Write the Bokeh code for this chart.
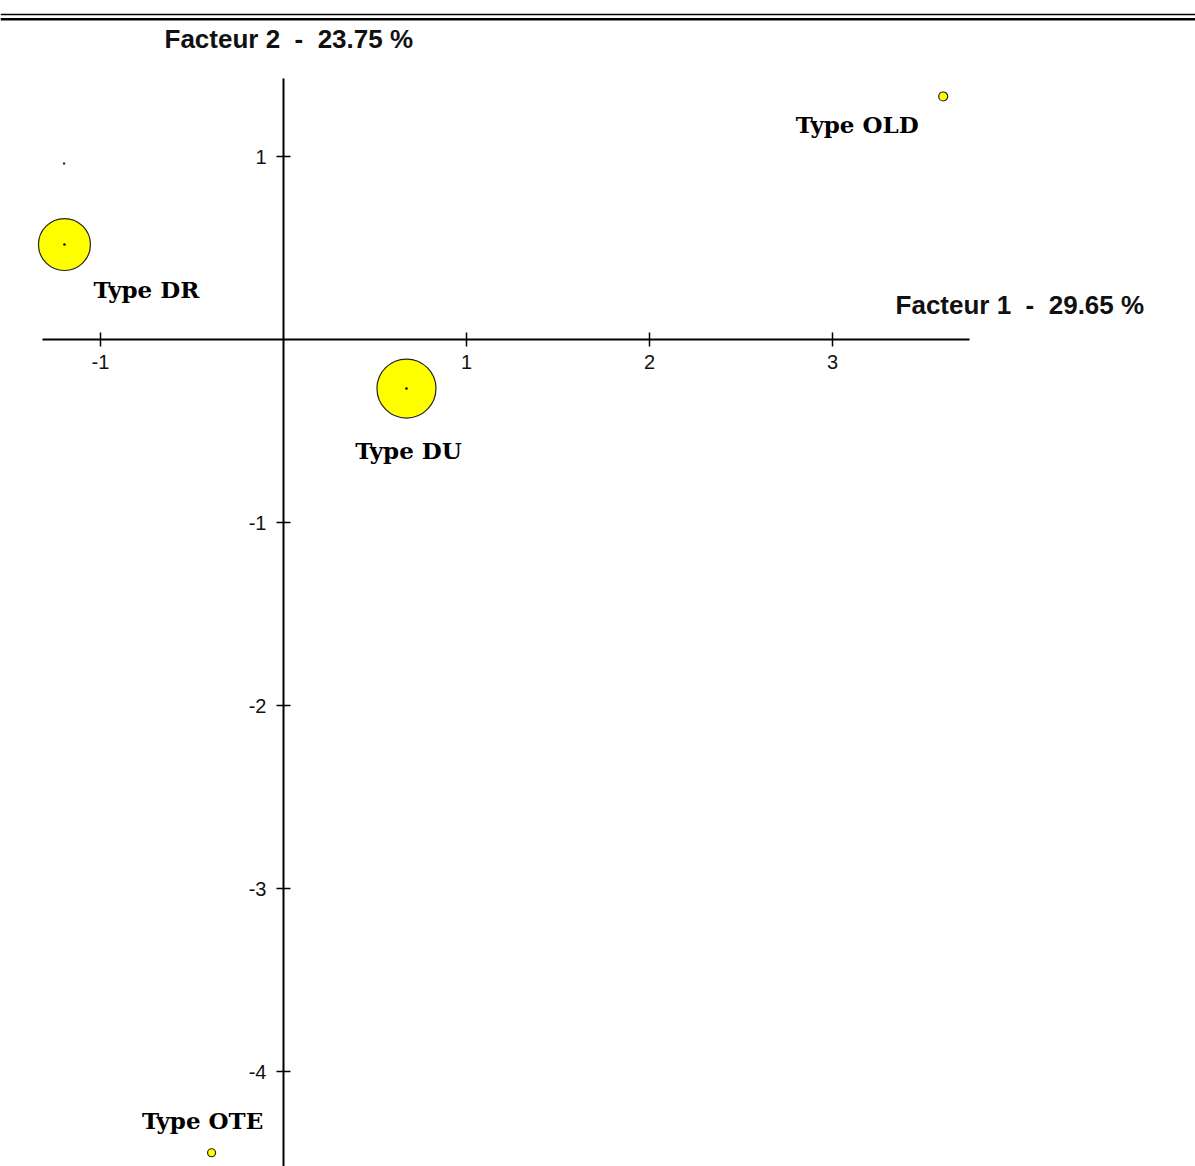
from bokeh.plotting import figure
from bokeh.models import (Range1d, FixedTicker, Label, LabelSet, Span,
                          ColumnDataSource, LinearAxis, CDSView, BooleanFilter)
from bokeh.embed import file_html
from bokeh.resources import INLINE
from bokeh.core.properties import value

# ---- data ----
types = ["Type DR", "Type DU", "Type OLD", "Type OTE"]
facteur1 = [-1.197, 0.672, 3.605, -0.393]
facteur2 = [0.519, -0.268, 1.328, -4.444]
poids = [52, 59, 9, 8]          # bubble size (diameter)
isole_x = [-1.199]
isole_y = [0.962]
x_ticks = [-1, 1, 2, 3]
y_ticks = [-4, -3, -2, -1, 1]
inertie = [29.65, 23.75]

# ---- label placement (screen px, up positive) ----
lab_dx = [82, 2, -86, -9]
lab_dy = [-53, -70, -37, 24]

src = ColumnDataSource(dict(x=facteur1, y=facteur2, s=poids, t=types,
                            dx=lab_dx, dy=lab_dy))

W, H = 1195, 1166
ox, oy, k = 283, 339, 183.0   # layout: origin pixel and pixels per unit
p = figure(width=W, height=H,
           x_range=Range1d(-ox / k, (W - ox) / k),
           y_range=Range1d((oy - H) / k, oy / k),
           output_backend="svg", toolbar_location=None,
           x_axis_location=None, y_axis_location=None, min_border=0)
p.grid.visible = False
p.outline_line_color = None
p.background_fill_color = "white"

x_bounds = (-1.317, 3.749)
y_bounds = (-4.7, 1.426)

def style(ax, ticks):
    ax.axis_line_color = "black"
    ax.axis_line_width = 2
    ax.major_tick_in = 7
    ax.major_tick_out = 7
    ax.major_tick_line_color = "black"
    ax.major_tick_line_width = 1.5
    ax.minor_tick_line_color = None
    ax.major_label_text_font = "Liberation Sans"
    ax.major_label_text_font_size = "20px"
    ax.major_label_text_color = "#111111"
    ax.major_label_overrides = {t: str(t) for t in ticks}

xaxis = LinearAxis(fixed_location=0, bounds=x_bounds, ticker=FixedTicker(ticks=x_ticks))
style(xaxis, x_ticks)
xaxis.major_label_standoff = 8
p.add_layout(xaxis, "below")

yaxis = LinearAxis(fixed_location=0, bounds=y_bounds, ticker=FixedTicker(ticks=y_ticks))
style(yaxis, y_ticks)
yaxis.major_label_standoff = 10
p.add_layout(yaxis, "left")

# bubbles
p.scatter("x", "y", size="s", source=src, fill_color="#FFFF00",
          line_color="#222222", line_width=1.2)
big = CDSView(filter=BooleanFilter([s > 20 for s in poids]))
p.scatter("x", "y", size=2.5, source=src, view=big, fill_color="black", line_color=None)
p.scatter(isole_x, isole_y, size=2.5, fill_color="#333333", line_color=None)

labels = LabelSet(x="x", y="y", text="t", x_offset="dx", y_offset="dy", source=src,
                  text_align="center", text_baseline="alphabetic",
                  text_font=value("DejaVu Serif"), text_font_style="bold",
                  text_font_size="23px", text_color="black")
p.add_layout(labels)

# axis titles
sp = "\u00a0 "
p.add_layout(Label(x=x_bounds[1], y=0, x_offset=-74, y_offset=35,
                   text=f"Facteur 1{sp}-{sp}{inertie[0]:.2f} %",
                   text_font="Liberation Sans", text_font_style="bold",
                   text_font_size="26px", text_baseline="alphabetic",
                   text_align="left", text_color="#111111"))
p.add_layout(Label(x=0, y=y_bounds[1], x_offset=-119, y_offset=40,
                   text=f"Facteur 2{sp}-{sp}{inertie[1]:.2f} %",
                   text_font="Liberation Sans", text_font_style="bold",
                   text_font_size="26px", text_baseline="alphabetic",
                   text_align="left", text_color="#111111"))

# top double rule
p.add_layout(Span(location=14, location_units="canvas", dimension="width",
                  line_color="black", line_width=1.5))
p.add_layout(Span(location=18.7, location_units="canvas", dimension="width",
                  line_color="black", line_width=2.5))

open("out.html", "w").write(file_html(p, INLINE))
